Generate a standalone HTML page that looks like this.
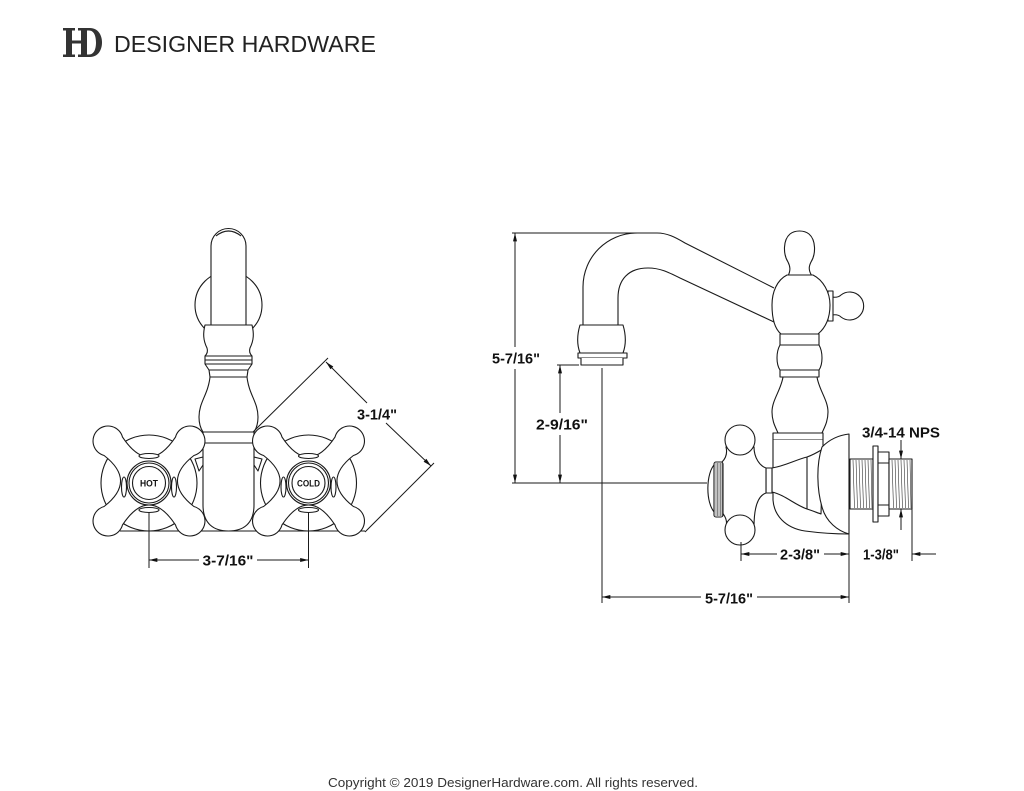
<!DOCTYPE html>
<html><head><meta charset="utf-8"><style>
html,body{margin:0;padding:0;background:#fff;}
svg{display:block;}
.t{font-family:"Liberation Sans",Arial,sans-serif;font-weight:bold;font-size:15px;fill:#111;}
</style></head><body>
<svg width="1024" height="791" viewBox="0 0 1024 791" xmlns="http://www.w3.org/2000/svg">
<defs>
<marker id="a" viewBox="0 0 10 6" refX="10" refY="3" markerWidth="9" markerHeight="5" markerUnits="userSpaceOnUse" orient="auto"><path d="M0,0.6 L10,3 L0,5.4 z" fill="#111"/></marker>
</defs>
<rect width="1024" height="791" fill="#fff"/>

<!-- Header logo -->
<g fill="#333">
<rect x="66" y="28" width="6" height="29"/>
<rect x="63" y="28" width="12" height="2.5"/>
<rect x="63" y="54.5" width="12" height="2.5"/>
<rect x="72" y="40.5" width="10" height="3"/>
<rect x="81" y="28" width="6" height="29"/>
<rect x="78" y="28" width="11" height="2.5"/>
<rect x="78" y="54.5" width="11" height="2.5"/>
<path d="M87,28 L90,28 C98,28 102,35 102,42.5 C102,50 98,57 90,57 L87,57 L87,54.5 L89,54.5 C94,54.5 96,49 96,42.5 C96,36 94,30.5 89,30.5 L87,30.5 Z"/>
</g>
<text x="114" y="52" font-family="Liberation Sans, Arial, sans-serif" font-size="23" fill="#222" textLength="262" lengthAdjust="spacingAndGlyphs">DESIGNER HARDWARE</text>

<!-- LEFT FRONT VIEW -->
<g stroke="#1a1a1a" stroke-width="1.1" fill="#fff" stroke-linejoin="round">
<!-- flange circle behind spout -->
<circle cx="228.5" cy="305" r="33.5"/>
<!-- spout tube -->
<path d="M211,325 L211,246 A17.5,17.5 0 0 1 246,246 L246,325 Z"/>
<path d="M216,236 Q228.5,226 241,236" fill="none"/>
<!-- collar -->
<path d="M205,325 L252,325 C254,333 254,340 250,348 C249,351 250,354 252,356 L205,356 C207,354 208,351 207,348 C203,340 203,333 205,325 Z"/>
<path d="M205,356 L252,356 L252,364 L248,370 L247,377 L210,377 L209,370 L205,364 Z"/>
<path d="M205,360 L252,360 M205,364 L252,364 M209,370 L248,370" fill="none"/>
<!-- bulb -->
<path d="M210,377 C208,395 199,402 199,417 C199,425 201,429 203,432 L254,432 C256,429 258,425 258,417 C258,402 249,395 247,377 Z"/>
<rect x="203" y="432" width="51" height="11"/>
<!-- lower body -->
<path d="M203,443 L203,505 C203,524 214,531 228.5,531 C243,531 254,524 254,505 L254,443 Z"/>
<!-- base line -->
<path d="M120,531 L365,531" fill="none"/>
<!-- notches -->
<path d="M203,457 L195,459 L199,471 L203,465" fill="none"/>
<path d="M254,457 L262,459 L258,471 L254,465" fill="none"/>

<!-- HOT escutcheon + handle -->
<circle cx="149" cy="483" r="48"/>
<path d="M122.5,437.1 Q149,477 175.5,437.1 A15,15 0 1 1 193.9,455.5 Q161,481 193.9,506.5 A15,15 0 1 1 175.5,524.9 Q149,485 122.5,524.9 A15,15 0 1 1 104.1,506.5 Q137,481 104.1,455.5 A15,15 0 1 1 122.5,437.1 Z"/>
<ellipse cx="149" cy="456" rx="10" ry="2.5"/>
<ellipse cx="149" cy="510" rx="10" ry="2.5"/>
<ellipse cx="124" cy="487" rx="2.5" ry="10"/>
<ellipse cx="174" cy="487" rx="2.5" ry="10"/>
<circle cx="149" cy="483" r="22"/>
<circle cx="149" cy="483" r="20" fill="none"/>
<circle cx="149" cy="483" r="16.5" fill="none"/>

<!-- COLD escutcheon + handle -->
<circle cx="308.5" cy="483" r="48"/>
<path d="M282,437.1 Q308.5,477 335,437.1 A15,15 0 1 1 353.4,455.5 Q320.5,481 353.4,506.5 A15,15 0 1 1 335,524.9 Q308.5,485 282,524.9 A15,15 0 1 1 263.6,506.5 Q296.5,481 263.6,455.5 A15,15 0 1 1 282,437.1 Z"/>
<ellipse cx="308.5" cy="456" rx="10" ry="2.5"/>
<ellipse cx="308.5" cy="510" rx="10" ry="2.5"/>
<ellipse cx="283.5" cy="487" rx="2.5" ry="10"/>
<ellipse cx="333.5" cy="487" rx="2.5" ry="10"/>
<circle cx="308.5" cy="483" r="22"/>
<circle cx="308.5" cy="483" r="20" fill="none"/>
<circle cx="308.5" cy="483" r="16.5" fill="none"/>
</g>
<text x="149" y="486.5" text-anchor="middle" font-family="Liberation Sans, Arial, sans-serif" font-weight="bold" font-size="9" fill="#111" textLength="18" lengthAdjust="spacingAndGlyphs">HOT</text>
<text x="308.5" y="486.5" text-anchor="middle" font-family="Liberation Sans, Arial, sans-serif" font-weight="bold" font-size="9" fill="#111" textLength="23" lengthAdjust="spacingAndGlyphs">COLD</text>

<!-- Left dims -->
<g stroke="#1a1a1a" stroke-width="1" fill="none">
<path d="M149,513 L149,568 M308.5,513 L308.5,568"/>
<line x1="199" y1="560" x2="149" y2="560" marker-end="url(#a)"/>
<line x1="257" y1="560" x2="308.5" y2="560" marker-end="url(#a)"/>
<path d="M253,432 L328,358 M365,532 L434,463"/>
<line x1="367" y1="403" x2="326" y2="362" marker-end="url(#a)"/>
<line x1="386" y1="423" x2="431" y2="466" marker-end="url(#a)"/>
</g>
<text class="t" x="228" y="565.5" text-anchor="middle" textLength="51" lengthAdjust="spacingAndGlyphs">3-7/16"</text>
<text class="t" x="377" y="419.5" text-anchor="middle" textLength="40" lengthAdjust="spacingAndGlyphs">3-1/4"</text>

<!-- RIGHT SIDE VIEW -->
<g stroke="#1a1a1a" stroke-width="1.1" fill="none" stroke-linejoin="round">
<!-- spout -->
<path d="M583,325 L583,287 C583,257 607,233 637,233 L657,233 C667,233 675,237 685,243 L774,288"/>
<path d="M618,325 L618,298 C618,280 628,268 648,268 C660,268 668,272 680,278 L774,322"/>
<!-- spout tip -->
<path fill="#fff" d="M580,325 L623,325 C626,335 626,345 623,353 L580,353 C577,345 577,335 580,325 Z"/>
<path fill="#fff" d="M578,353 L627,353 L627,358 L578,358 Z"/>
<path fill="#fff" d="M581,358 L581,365 L623,365 L623,358"/>
</g>

<g stroke="#1a1a1a" stroke-width="1.1" fill="#fff" stroke-linejoin="round">
<!-- finial -->
<path d="M788,276 C791,270 790,266 788,262 C783,254 783,240 790,234 C795,230 804,230 809,234 C816,240 816,254 811,262 C809,266 808,270 812,276 Z"/>
<!-- knob -->
<path d="M832,297 Q838,298 841,295 A14,14 0 1 1 841,317 Q838,314 832,315 Z"/>
<rect x="828" y="291" width="5" height="30"/>
<!-- hub -->
<path d="M787,275 L813,275 C823,280 830,292 830,305 C830,320 824,329 818,334 L781,334 C775,329 772,320 772,305 C772,292 777,280 787,275 Z"/>
<!-- collars -->
<rect x="780" y="334" width="39" height="11"/>
<path d="M780,345 C776,352 776,364 780,370 L819,370 C823,364 823,352 819,345 Z"/>
<rect x="780" y="370" width="39" height="7"/>
<path d="M783,377 C781,390 772,400 772,412 C772,422 776,428 778,433 L822,433 C824,428 828,422 828,412 C828,400 819,390 817,377 Z"/>
<rect x="773" y="433" width="50" height="7"/>
<path d="M773,440 L773,500 L823,500 L823,440" stroke="none"/>
<path d="M773,440 L773,468 M823,440 L823,450" fill="none"/>
<!-- elbow -->
<path d="M773,492 L773,500 C774,515 785,528 805,531 C820,533 835,534 849,534" />
<!-- cup -->
<path d="M772,468 C785,466 795,460 807,457 C813,455 818,452 823,449 L821,514 C818,513 813,511 807,509 C795,505 785,495 772,492 Z"/>
<path d="M807,457 L807,509" fill="none"/>
<!-- escutcheon -->
<path d="M822,447 C830,439 840,435 849,434 L849,534 C838,531 826,522 822,507 C817,490 816,465 822,447 Z"/>
<!-- stem -->
<rect x="766" y="468" width="6" height="25"/>
<!-- handle body -->
<path d="M726,447 L754,447 C754,458 760,466 766,468 L766,493 C760,495 754,502 754,527 L726,527 C728,520 724,515 722,512 L722,462 C724,460 728,455 726,447 Z"/>
<circle cx="740" cy="440" r="15"/>
<circle cx="740" cy="530" r="15"/>
<!-- knurl cap -->
<path d="M715,464 C706,472 705,503 715,513 Z"/>
<rect x="714" y="462" width="9" height="55" rx="2"/>
<!-- pipe -->
<rect x="850" y="459" width="23" height="50"/>
<rect x="873" y="446" width="5" height="76"/>
<rect x="878" y="452" width="11" height="64"/>
<path d="M878,463 L889,463 M878,505 L889,505" fill="none"/>
<rect x="889" y="459" width="23" height="50"/>
</g>
<g stroke="#333" stroke-width="0.6">
<path d="M716,463 V516 M717.5,463 V516 M719,463 V516 M720.5,463 V516 M722,463 V516"/>
<path d="M853,460 L854.5,508 M856,460 L857.5,508 M859,460 L860.5,508 M862,460 L863.5,508 M865,460 L866.5,508 M868,460 L869.5,508 M871,460 L872,508"/>
<path d="M892,460 L893.5,508 M895,460 L896.5,508 M898,460 L899.5,508 M901,460 L902.5,508 M904,460 L905.5,508 M907,460 L908.5,508 M910,460 L911,508"/>
</g>

<!-- Right dims -->
<g stroke="#1a1a1a" stroke-width="1" fill="none">
<path d="M512,233 L637,233 M512,483 L707,483 M557,365 L579,365"/>
<line x1="515" y1="347" x2="515" y2="233" marker-end="url(#a)"/>
<line x1="515" y1="369" x2="515" y2="483" marker-end="url(#a)"/>
<line x1="560" y1="413" x2="560" y2="365" marker-end="url(#a)"/>
<line x1="560" y1="435" x2="560" y2="483" marker-end="url(#a)"/>
<path d="M602,368 L602,603 M849,534 L849,603 M741,542 L741,561 M912,509 L912,561"/>
<line x1="701" y1="597" x2="602" y2="597" marker-end="url(#a)"/>
<line x1="757" y1="597" x2="849" y2="597" marker-end="url(#a)"/>
<line x1="777" y1="554" x2="741" y2="554" marker-end="url(#a)"/>
<line x1="824" y1="554" x2="849" y2="554" marker-end="url(#a)"/>
<line x1="936" y1="554" x2="912" y2="554" marker-end="url(#a)"/>
<line x1="901" y1="440" x2="901" y2="459" marker-end="url(#a)"/>
<line x1="901" y1="530" x2="901" y2="509" marker-end="url(#a)"/>
</g>
<text class="t" x="516" y="363.5" text-anchor="middle" textLength="48" lengthAdjust="spacingAndGlyphs">5-7/16"</text>
<text class="t" x="562" y="429.5" text-anchor="middle" textLength="52" lengthAdjust="spacingAndGlyphs">2-9/16"</text>
<text class="t" x="729" y="603.5" text-anchor="middle" textLength="48" lengthAdjust="spacingAndGlyphs">5-7/16"</text>
<text class="t" x="800" y="559.5" text-anchor="middle" textLength="40" lengthAdjust="spacingAndGlyphs">2-3/8"</text>
<text class="t" x="881" y="559.5" text-anchor="middle" textLength="36" lengthAdjust="spacingAndGlyphs">1-3/8"</text>
<text class="t" x="901" y="437.5" text-anchor="middle" textLength="78" lengthAdjust="spacingAndGlyphs">3/4-14 NPS</text>

<!-- Footer -->
<text x="328" y="787" font-family="Liberation Sans, Arial, sans-serif" font-size="13" fill="#333" textLength="370" lengthAdjust="spacingAndGlyphs">Copyright © 2019 DesignerHardware.com. All rights reserved.</text>
</svg>
</body></html>
